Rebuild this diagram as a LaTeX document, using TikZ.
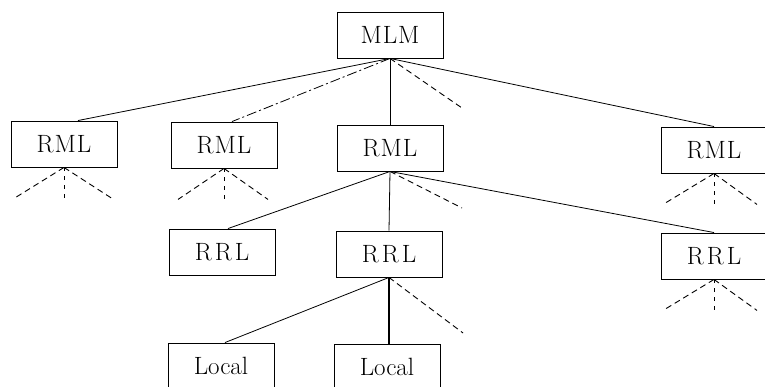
\documentclass[tikz,border=0pt]{standalone}
\usepackage{tikz}

\tikzset{box/.style={draw, line width=0.9pt, minimum width=106pt, minimum height=46pt, inner sep=0pt, font=\fontsize{25}{28}\selectfont},
  link/.style={line width=0.8pt},
  stub/.style={line width=0.9pt, dash pattern=on 6pt off 4pt},
  vstub/.style={line width=0.8pt, dash pattern=on 4pt off 5pt}}

% three dashed stubs hanging below a box
\newcommand{\fan}[3]{%
  \path (#1.south) ++(-#2,31) coordinate (#1-l);
  \path (#1.south) ++(0,31) coordinate (#1-m);
  \path (#1.south) ++(#3,31) coordinate (#1-r);
  \draw[stub] (#1.south) -- (#1-l);
  \draw[vstub] (#1.south) -- (#1-m);
  \draw[stub] (#1.south) -- (#1-r);
}

\begin{document}
\begin{tikzpicture}[x=1pt,y=-1pt]
\useasboundingbox (0,0) rectangle (765,387);
% boxes
\node[box] (mlm) at (390,35) {M\kern1ptL\kern1ptM};
\node[box] (rmlA) at (64,144) {R\kern1ptM\kern1ptL};
\node[box] (rmlB) at (224,145) {R\kern1ptM\kern1ptL};
\node[box] (rmlC) at (390,148) {R\kern1ptM\kern1ptL};
\node[box] (rmlD) at (714,150) {R\kern1ptM\kern1ptL};
\node[box] (rrlA) at (222,252) {R\kern3ptR\kern3ptL};
\node[box] (rrlB) at (389,254) {R\kern3ptR\kern3ptL};
\node[box] (rrlC) at (714,256) {R\kern3ptR\kern3ptL};
\node[box] (locA) at (221,366) {Local};
\node[box] (locB) at (387,367) {Local};
% free ends
\coordinate (mlm-x) at (462,108);
\coordinate (rmlC-x) at (462,208);
\coordinate (rrlB-x) at (463,333);
% top level
\draw[link] (mlm.south) -- ([xshift=14pt]rmlA.north);
\draw[link, dash pattern=on 10pt off 3pt on 2pt off 3pt] (mlm.south) -- ([xshift=8pt]rmlB.north);
\draw[link] (mlm.south) -- (rmlC.north);
\draw[stub] (mlm.south) -- (mlm-x);
\draw[link] (mlm.south) -- (rmlD.north);
% second level
\draw[link] (rmlC.south) -- ([xshift=6pt]rrlA.north);
\draw[link] (rmlC.south) -- (rrlB.north);
\draw[stub] (rmlC.south) -- (rmlC-x);
\draw[link] (rmlC.south) -- (rrlC.north);
% third level
\draw[link] (rrlB.south) -- ([xshift=4pt]locA.north);
\draw[line width=1.2pt] (rrlB.south) -- ([xshift=2pt]locB.north);
\draw[stub] (rrlB.south) -- (rrlB-x);
% unexpanded branches
\fan{rmlA}{50}{48}
\fan{rmlB}{46}{44}
\fan{rmlD}{51}{43}
\fan{rrlC}{51}{43}
\end{tikzpicture}
\end{document}
